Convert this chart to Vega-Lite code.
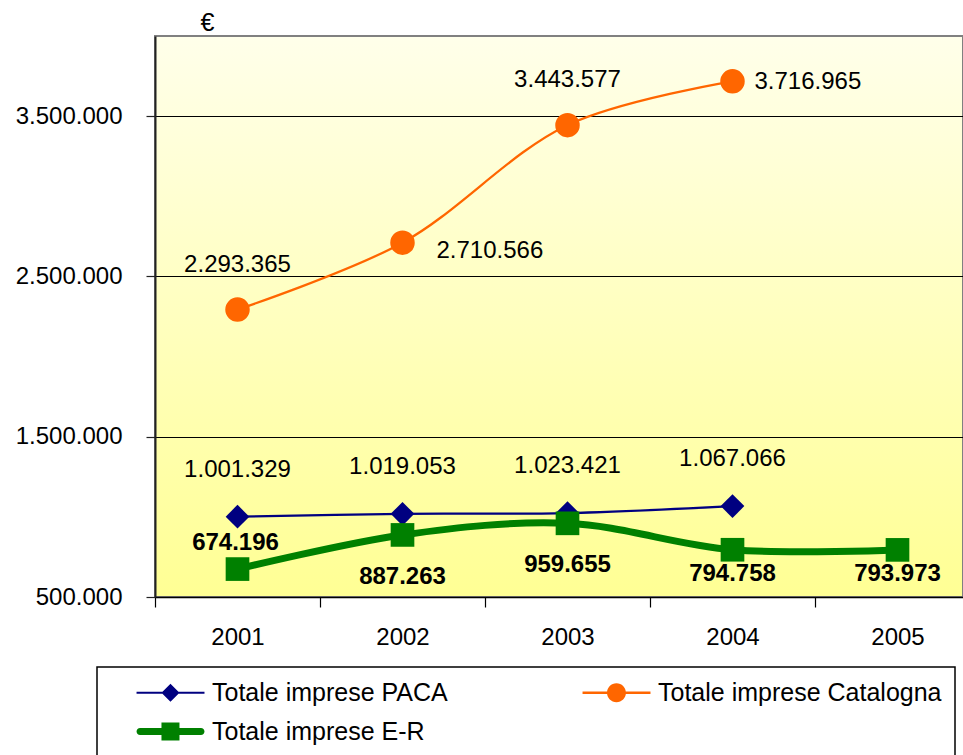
{
  "$schema": "https://vega.github.io/schema/vega-lite/v6.json",
  "width": 808,
  "height": 561,
  "autosize": {"type": "none"},
  "padding": {"left": 155, "top": 36, "right": 0, "bottom": 158},
  "background": "white",
  "config": {
    "font": "Liberation Sans",
    "locale": {"number": {"decimal": ",", "thousands": ".", "grouping": [3], "currency": ["", " €"]}},
    "view": {
      "stroke": "#808080",
      "strokeWidth": 2,
      "fill": {"gradient": "linear", "x1": 0, "y1": 0, "x2": 0, "y2": 1,
        "stops": [{"offset": 0, "color": "#FFFFEA"}, {"offset": 1, "color": "#FFFF94"}]}
    },
    "axis": {"labelColor": "black", "labelFont": "Liberation Sans", "titleFont": "Liberation Sans"}
  },
  "data": {
    "values": [
      {"year": "2001", "series": "Totale imprese PACA", "value": 1001329},
      {"year": "2002", "series": "Totale imprese PACA", "value": 1019053},
      {"year": "2003", "series": "Totale imprese PACA", "value": 1023421},
      {"year": "2004", "series": "Totale imprese PACA", "value": 1067066},
      {"year": "2001", "series": "Totale imprese Catalogna", "value": 2293365},
      {"year": "2002", "series": "Totale imprese Catalogna", "value": 2710566},
      {"year": "2003", "series": "Totale imprese Catalogna", "value": 3443577},
      {"year": "2004", "series": "Totale imprese Catalogna", "value": 3716965},
      {"year": "2001", "series": "Totale imprese E-R", "value": 674196},
      {"year": "2002", "series": "Totale imprese E-R", "value": 887263},
      {"year": "2003", "series": "Totale imprese E-R", "value": 959655},
      {"year": "2004", "series": "Totale imprese E-R", "value": 794758},
      {"year": "2005", "series": "Totale imprese E-R", "value": 793973}
    ]
  },
  "encoding": {
    "x": {
      "field": "year", "type": "ordinal",
      "scale": {"type": "band", "range": [0, 825], "paddingInner": 0, "paddingOuter": 0},
      "axis": {"title": null, "tickBand": "extent", "tickSize": 10, "tickColor": "black", "tickWidth": 1.2,
        "labelFontSize": 24, "labelPadding": 18, "labelAngle": 0, "domainColor": "black", "domainWidth": 1.5, "grid": false}
    },
    "y": {
      "field": "value", "type": "quantitative",
      "scale": {"domain": [500000, 4000000], "nice": false, "zero": false},
      "axis": {"values": [500000, 1500000, 2500000, 3500000], "format": ",d", "labelFontSize": 24,
        "tickSize": 9, "tickColor": "#222", "tickWidth": 1.2, "labelPadding": 24, "domainColor": "#222", "domainWidth": 2,
        "grid": true, "gridColor": "black", "gridWidth": 1.2, "gridOpacity": 1,
        "title": "€", "titleAngle": 0, "titleX": 52, "titleY": -14, "titleFontSize": 25, "titleFontWeight": "normal",
        "titleAlign": "center", "titleBaseline": "middle", "titleColor": "black"}
    },
    "color": {
      "field": "series", "type": "nominal",
      "scale": {"domain": ["Totale imprese PACA", "Totale imprese Catalogna", "Totale imprese E-R"],
        "range": ["#000080", "#FF6600", "#008000"]},
      "legend": {
        "title": null, "orient": "none", "legendX": -58, "legendY": 631, "columns": 2, "direction": "horizontal",
        "symbolSize": 324, "labelOffset": 77, "labelFontSize": 25, "labelLimit": 500, "labelColor": "black",
        "labelFont": "Liberation Sans",
        "columnPadding": 108, "rowPadding": 13, "padding": 13,
        "strokeColor": "black", "fillColor": "white", "symbolStrokeWidth": 0, "symbolOpacity": 1,
        "encode": {
          "legend": {"update": {"width": {"value": 920}, "height": {"value": 140}, "strokeWidth": {"value": 1.5}}},
          "symbols": {
            "update": {
              "shape": {"signal": "datum.value === 'Totale imprese PACA' ? 'M1.56,-0.11L9.11,-0.11L9.11,0.11L1.56,0.11ZM5.33,-1L6.33,0L5.33,1L4.33,0Z' : datum.value === 'Totale imprese Catalogna' ? 'M1.56,-0.13L9.11,-0.13L9.11,0.13L1.56,0.13ZM6.38,0A1.05,1.05,0,1,1,4.28,0A1.05,1.05,0,1,1,6.38,0Z' : 'M1.95,-0.39L8.72,-0.39A0.39,0.39,0,0,1,8.72,0.39L1.95,0.39A0.39,0.39,0,0,1,1.95,-0.39ZM4.33,-1L6.33,-1L6.33,1L4.33,1Z'"},
              "fill": {"signal": "scale('color', datum.value)"},
              "opacity": {"value": 1}
            }
          }
        }
      }
    }
  },
  "layer": [
    {
      "transform": [{"filter": "datum.series !== 'Totale imprese E-R'"}],
      "mark": {"type": "line", "interpolate": "catmull-rom", "strokeWidth": 2.3}
    },
    {
      "transform": [{"filter": "datum.series === 'Totale imprese E-R'"}],
      "mark": {"type": "line", "interpolate": "catmull-rom", "strokeWidth": 7}
    },
    {
      "transform": [{"filter": "datum.series === 'Totale imprese PACA'"}],
      "mark": {"type": "point", "shape": "diamond", "filled": true, "opacity": 1, "size": 560}
    },
    {
      "transform": [{"filter": "datum.series === 'Totale imprese Catalogna'"}],
      "mark": {"type": "point", "shape": "circle", "filled": true, "opacity": 1, "size": 600}
    },
    {
      "transform": [{"filter": "datum.series === 'Totale imprese E-R'"}],
      "mark": {"type": "point", "shape": "square", "filled": true, "opacity": 1, "size": 560}
    },
    {
      "transform": [{"filter": "datum.series === 'Totale imprese PACA'"}],
      "mark": {"type": "text", "dy": -47, "fontSize": 24, "align": "center", "baseline": "middle"},
      "encoding": {"text": {"field": "value", "type": "quantitative", "format": ",d"}, "color": {"value": "black"}}
    },
    {
      "transform": [{"filter": "datum.series === 'Totale imprese Catalogna' && (datum.year === '2001' || datum.year === '2003')"}],
      "mark": {"type": "text", "dy": -45, "fontSize": 24, "align": "center", "baseline": "middle"},
      "encoding": {"text": {"field": "value", "type": "quantitative", "format": ",d"}, "color": {"value": "black"}}
    },
    {
      "transform": [{"filter": "datum.series === 'Totale imprese Catalogna' && datum.year === '2002'"}],
      "mark": {"type": "text", "dx": 34, "dy": 8, "fontSize": 24, "align": "left", "baseline": "middle"},
      "encoding": {"text": {"field": "value", "type": "quantitative", "format": ",d"}, "color": {"value": "black"}}
    },
    {
      "transform": [{"filter": "datum.series === 'Totale imprese Catalogna' && datum.year === '2004'"}],
      "mark": {"type": "text", "dx": 22, "dy": 1, "fontSize": 24, "align": "left", "baseline": "middle"},
      "encoding": {"text": {"field": "value", "type": "quantitative", "format": ",d"}, "color": {"value": "black"}}
    },
    {
      "transform": [{"filter": "datum.series === 'Totale imprese E-R' && datum.year === '2001'"}],
      "mark": {"type": "text", "dx": -2, "dy": -26, "fontSize": 24, "fontWeight": "bold", "align": "center", "baseline": "middle"},
      "encoding": {"text": {"field": "value", "type": "quantitative", "format": ",d"}, "color": {"value": "black"}}
    },
    {
      "transform": [{"filter": "datum.series === 'Totale imprese E-R' && (datum.year === '2002' || datum.year === '2003')"}],
      "mark": {"type": "text", "dy": 42, "fontSize": 24, "fontWeight": "bold", "align": "center", "baseline": "middle"},
      "encoding": {"text": {"field": "value", "type": "quantitative", "format": ",d"}, "color": {"value": "black"}}
    },
    {
      "transform": [{"filter": "datum.series === 'Totale imprese E-R' && (datum.year === '2004' || datum.year === '2005')"}],
      "mark": {"type": "text", "dy": 24, "fontSize": 24, "fontWeight": "bold", "align": "center", "baseline": "middle"},
      "encoding": {"text": {"field": "value", "type": "quantitative", "format": ",d"}, "color": {"value": "black"}}
    }
  ]
}
